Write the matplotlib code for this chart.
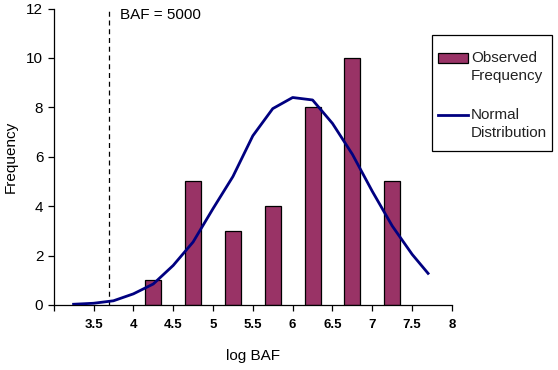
import matplotlib
matplotlib.use("Agg")
import matplotlib.pyplot as plt
import numpy as np
from matplotlib.patches import Rectangle
from matplotlib.lines import Line2D
from matplotlib.legend_handler import HandlerPatch, HandlerLine2D

plt.rcParams['font.family'] = ['Liberation Sans', 'DejaVu Sans']

# observed histogram (bin centres in log BAF)
bin_centers = [4.25, 4.75, 5.25, 5.75, 6.25, 6.75, 7.25]
observed = [1, 5, 3, 4, 8, 10, 5]

# fitted normal curve
curve_x = [3.25, 3.5, 3.75, 4.0, 4.25, 4.5, 4.75, 5.0, 5.25, 5.5,
           5.75, 6.0, 6.25, 6.5, 6.75, 7.0, 7.25, 7.5, 7.7]
curve_y = [0.03, 0.07, 0.17, 0.45, 0.85, 1.6, 2.55, 3.9, 5.2, 6.85,
           7.95, 8.4, 8.3, 7.35, 6.1, 4.6, 3.2, 2.05, 1.28]

baf_line = 3.699  # log10(5000)
x_ticks = [3.0, 3.5, 4.0, 4.5, 5.0, 5.5, 6.0, 6.5, 7.0, 7.5, 8.0]
x_labels = ["", "3.5", "4", "4.5", "5", "5.5", "6", "6.5", "7", "7.5", "8"]
y_ticks = [0, 2, 4, 6, 8, 10, 12]

BAR_COLOR = "#993366"
LINE_COLOR = "#000080"

fig = plt.figure(figsize=(5.58, 3.70), dpi=100)
ax = fig.add_axes([0.0962, 0.1757, 0.7138, 0.8011])

ax.bar(bin_centers, observed, width=0.2, color=BAR_COLOR,
       edgecolor="black", linewidth=0.9, zorder=2)
ax.plot(curve_x, curve_y, color=LINE_COLOR, linewidth=2.0, zorder=3)
ax.axvline(baf_line, color="black", linestyle=(0, (4, 3)), linewidth=0.9, zorder=1)
ax.text(baf_line + 0.13, 11.75, "BAF = 5000", fontsize=11, va="center", ha="left")

ax.set_xlim(3, 8)
ax.set_ylim(0, 12)
ax.set_xticks(x_ticks)
ax.set_xticklabels(x_labels, fontsize=9.5, fontweight="bold")
ax.set_yticks(y_ticks)
ax.tick_params(axis="y", labelsize=11, length=4, width=0.9, direction="out")
ax.tick_params(axis="x", length=4, width=0.9, direction="out", pad=6)
for s in ["top", "right"]:
    ax.spines[s].set_visible(False)
for s in ["left", "bottom"]:
    ax.spines[s].set_linewidth(0.9)

ax.set_xlabel("log BAF", fontsize=11, labelpad=13)
ax.set_ylabel("Frequency", fontsize=11, labelpad=6)


# legend handles sit level with the first line of their two-line label
def bar_patch(legend, orig_handle, xdescent, ydescent, width, height, fontsize):
    return Rectangle((-xdescent, -ydescent + 0.62 * fontsize), width, height)


class ShiftedLine(HandlerLine2D):
    def create_artists(self, legend, orig_handle, xdescent, ydescent,
                       width, height, fontsize, trans):
        arts = super().create_artists(legend, orig_handle, xdescent, ydescent,
                                      width, height, fontsize, trans)
        for a in arts:
            a.set_ydata(np.asarray(a.get_ydata()) + 0.62 * fontsize)
        return arts


# legend frame drawn separately so its padding matches the reference
fig.patches.append(Rectangle((431.5 / 558, 1 - 151 / 370), 120 / 558, 116 / 370,
                             transform=fig.transFigure, facecolor="white",
                             edgecolor="black", linewidth=0.9, zorder=4))

bar_proxy = Rectangle((0, 0), 1, 1, facecolor=BAR_COLOR, edgecolor="black", linewidth=0.9)
line_proxy = Line2D([0], [0], color=LINE_COLOR, linewidth=2.0)

leg = fig.legend([bar_proxy, line_proxy],
                 ["Observed\nFrequency", "Normal\nDistribution"],
                 handler_map={Rectangle: HandlerPatch(patch_func=bar_patch),
                              Line2D: ShiftedLine()},
                 loc="upper left", bbox_to_anchor=(438 / 558, 1 - 51 / 370),
                 bbox_transform=fig.transFigure, frameon=False,
                 fontsize=11, handlelength=1.95, handleheight=0.6,
                 labelspacing=1.6, borderpad=0, borderaxespad=0,
                 handletextpad=0.2)
leg.set_zorder(5)
for t in leg.get_texts():
    t.set_color("#222222")
    t.set_linespacing(1.4)

fig.savefig("out.png", dpi=100)
